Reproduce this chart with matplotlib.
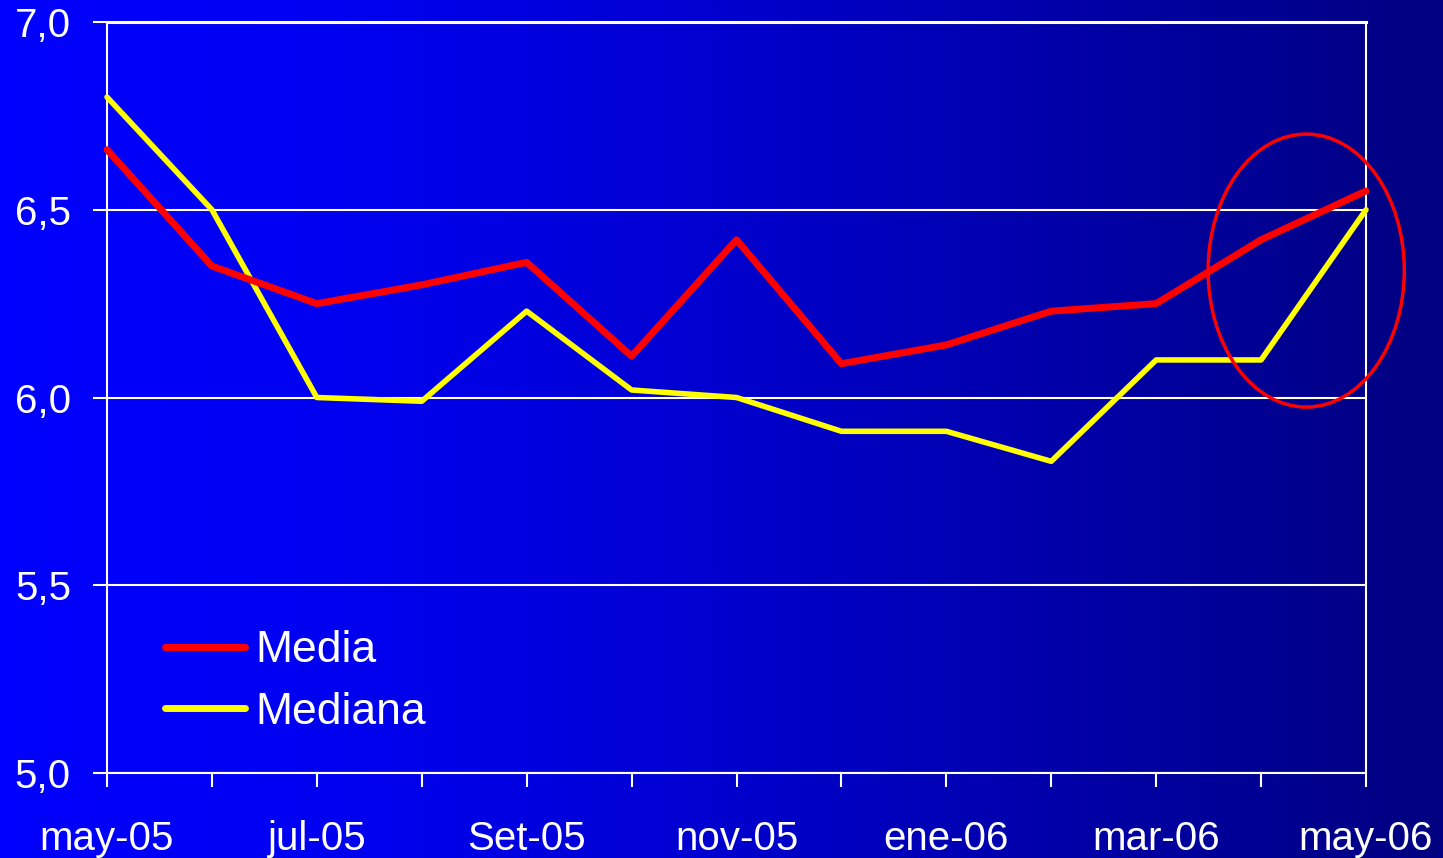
import numpy as np
import matplotlib
matplotlib.use("Agg")
import matplotlib.pyplot as plt
from matplotlib.patches import Ellipse
from matplotlib.ticker import FuncFormatter

plt.rcParams["font.family"] = ["Liberation Sans", "DejaVu Sans"]

# ── Data ───────────────────────────────────────────────────────────────────────
months = ["may-05", "jun-05", "jul-05", "ago-05", "Set-05", "oct-05", "nov-05",
          "dic-05", "ene-06", "feb-06", "mar-06", "abr-06", "may-06"]
media = [6.66, 6.35, 6.25, 6.30, 6.36, 6.11, 6.42, 6.09, 6.14, 6.23, 6.25, 6.42, 6.55]
mediana = [6.80, 6.50, 6.00, 5.99, 6.23, 6.02, 6.00, 5.91, 5.91, 5.83, 6.10, 6.10, 6.50]

RED = "#FF0000"
YELLOW = "#FFFF00"
WHITE = "#FFFFFF"

W, H, DPI = 1443, 858, 100
fig = plt.figure(figsize=(W / DPI, H / DPI), dpi=DPI)

# ── Background gradient (bright blue -> navy) ─────────────────────────────────
bg = fig.add_axes([0, 0, 1, 1], zorder=-10)
xs = np.linspace(0, 1, 600)
blue = np.interp(xs, [0.0, 0.24, 0.49, 0.69, 0.87, 1.0],
                 [255, 240, 208, 176, 148, 128]) / 255.0
grad = np.zeros((2, len(xs), 3))
grad[:, :, 2] = blue
bg.imshow(grad, aspect="auto", extent=[0, 1, 0, 1])
bg.set_axis_off()

# ── Main axes ──────────────────────────────────────────────────────────────────
ax = fig.add_axes([107 / W, 1 - 773 / H, (1366 - 107) / W, (773 - 22) / H])
ax.patch.set_alpha(0)

x = np.arange(len(months))
ax.plot(x, media, color=RED, lw=5, solid_capstyle="round",
        solid_joinstyle="round", label="Media", zorder=4, clip_on=False)
ax.plot(x, mediana, color=YELLOW, lw=4, solid_capstyle="round",
        solid_joinstyle="round", label="Mediana", zorder=3, clip_on=False)

ax.set_xlim(0, len(months) - 1)
ax.set_ylim(5.0, 7.0)
ax.set_yticks([5.0, 5.5, 6.0, 6.5, 7.0])
ax.yaxis.set_major_formatter(FuncFormatter(lambda v, _: f"{v:.1f}".replace(".", ",")))
ax.set_xticks(x)
ax.set_xticklabels([m if i % 2 == 0 else "" for i, m in enumerate(months)])

ax.grid(axis="y", color=WHITE, lw=1.5)
ax.set_axisbelow(True)
for side in ["left", "bottom", "right"]:
    ax.spines[side].set_color(WHITE)
    ax.spines[side].set_linewidth(1.5)
ax.spines["top"].set_color(WHITE)
ax.spines["top"].set_linewidth(2.2)

ax.tick_params(axis="both", colors=WHITE, direction="out", length=10, width=1.5,
               labelsize=29)
ax.tick_params(axis="y", pad=16)
ax.tick_params(axis="x", pad=24)

# highlight ellipse round the last months
ell = Ellipse((11.43, 6.338), width=1.87, height=0.727, fill=False,
              edgecolor=RED, lw=2.5, clip_on=False, zorder=5)
ax.add_patch(ell)

leg = ax.legend(loc="upper left", bbox_to_anchor=(0.046, 0.19), frameon=False,
                fontsize=32, handlelength=1.8, handletextpad=0.23,
                labelspacing=0.46, borderpad=0, borderaxespad=0)
for t in leg.get_texts():
    t.set_color(WHITE)
for h in leg.legend_handles:
    h.set_linewidth(5)
    h.set_solid_capstyle("round")

fig.savefig("out.png", dpi=DPI)
